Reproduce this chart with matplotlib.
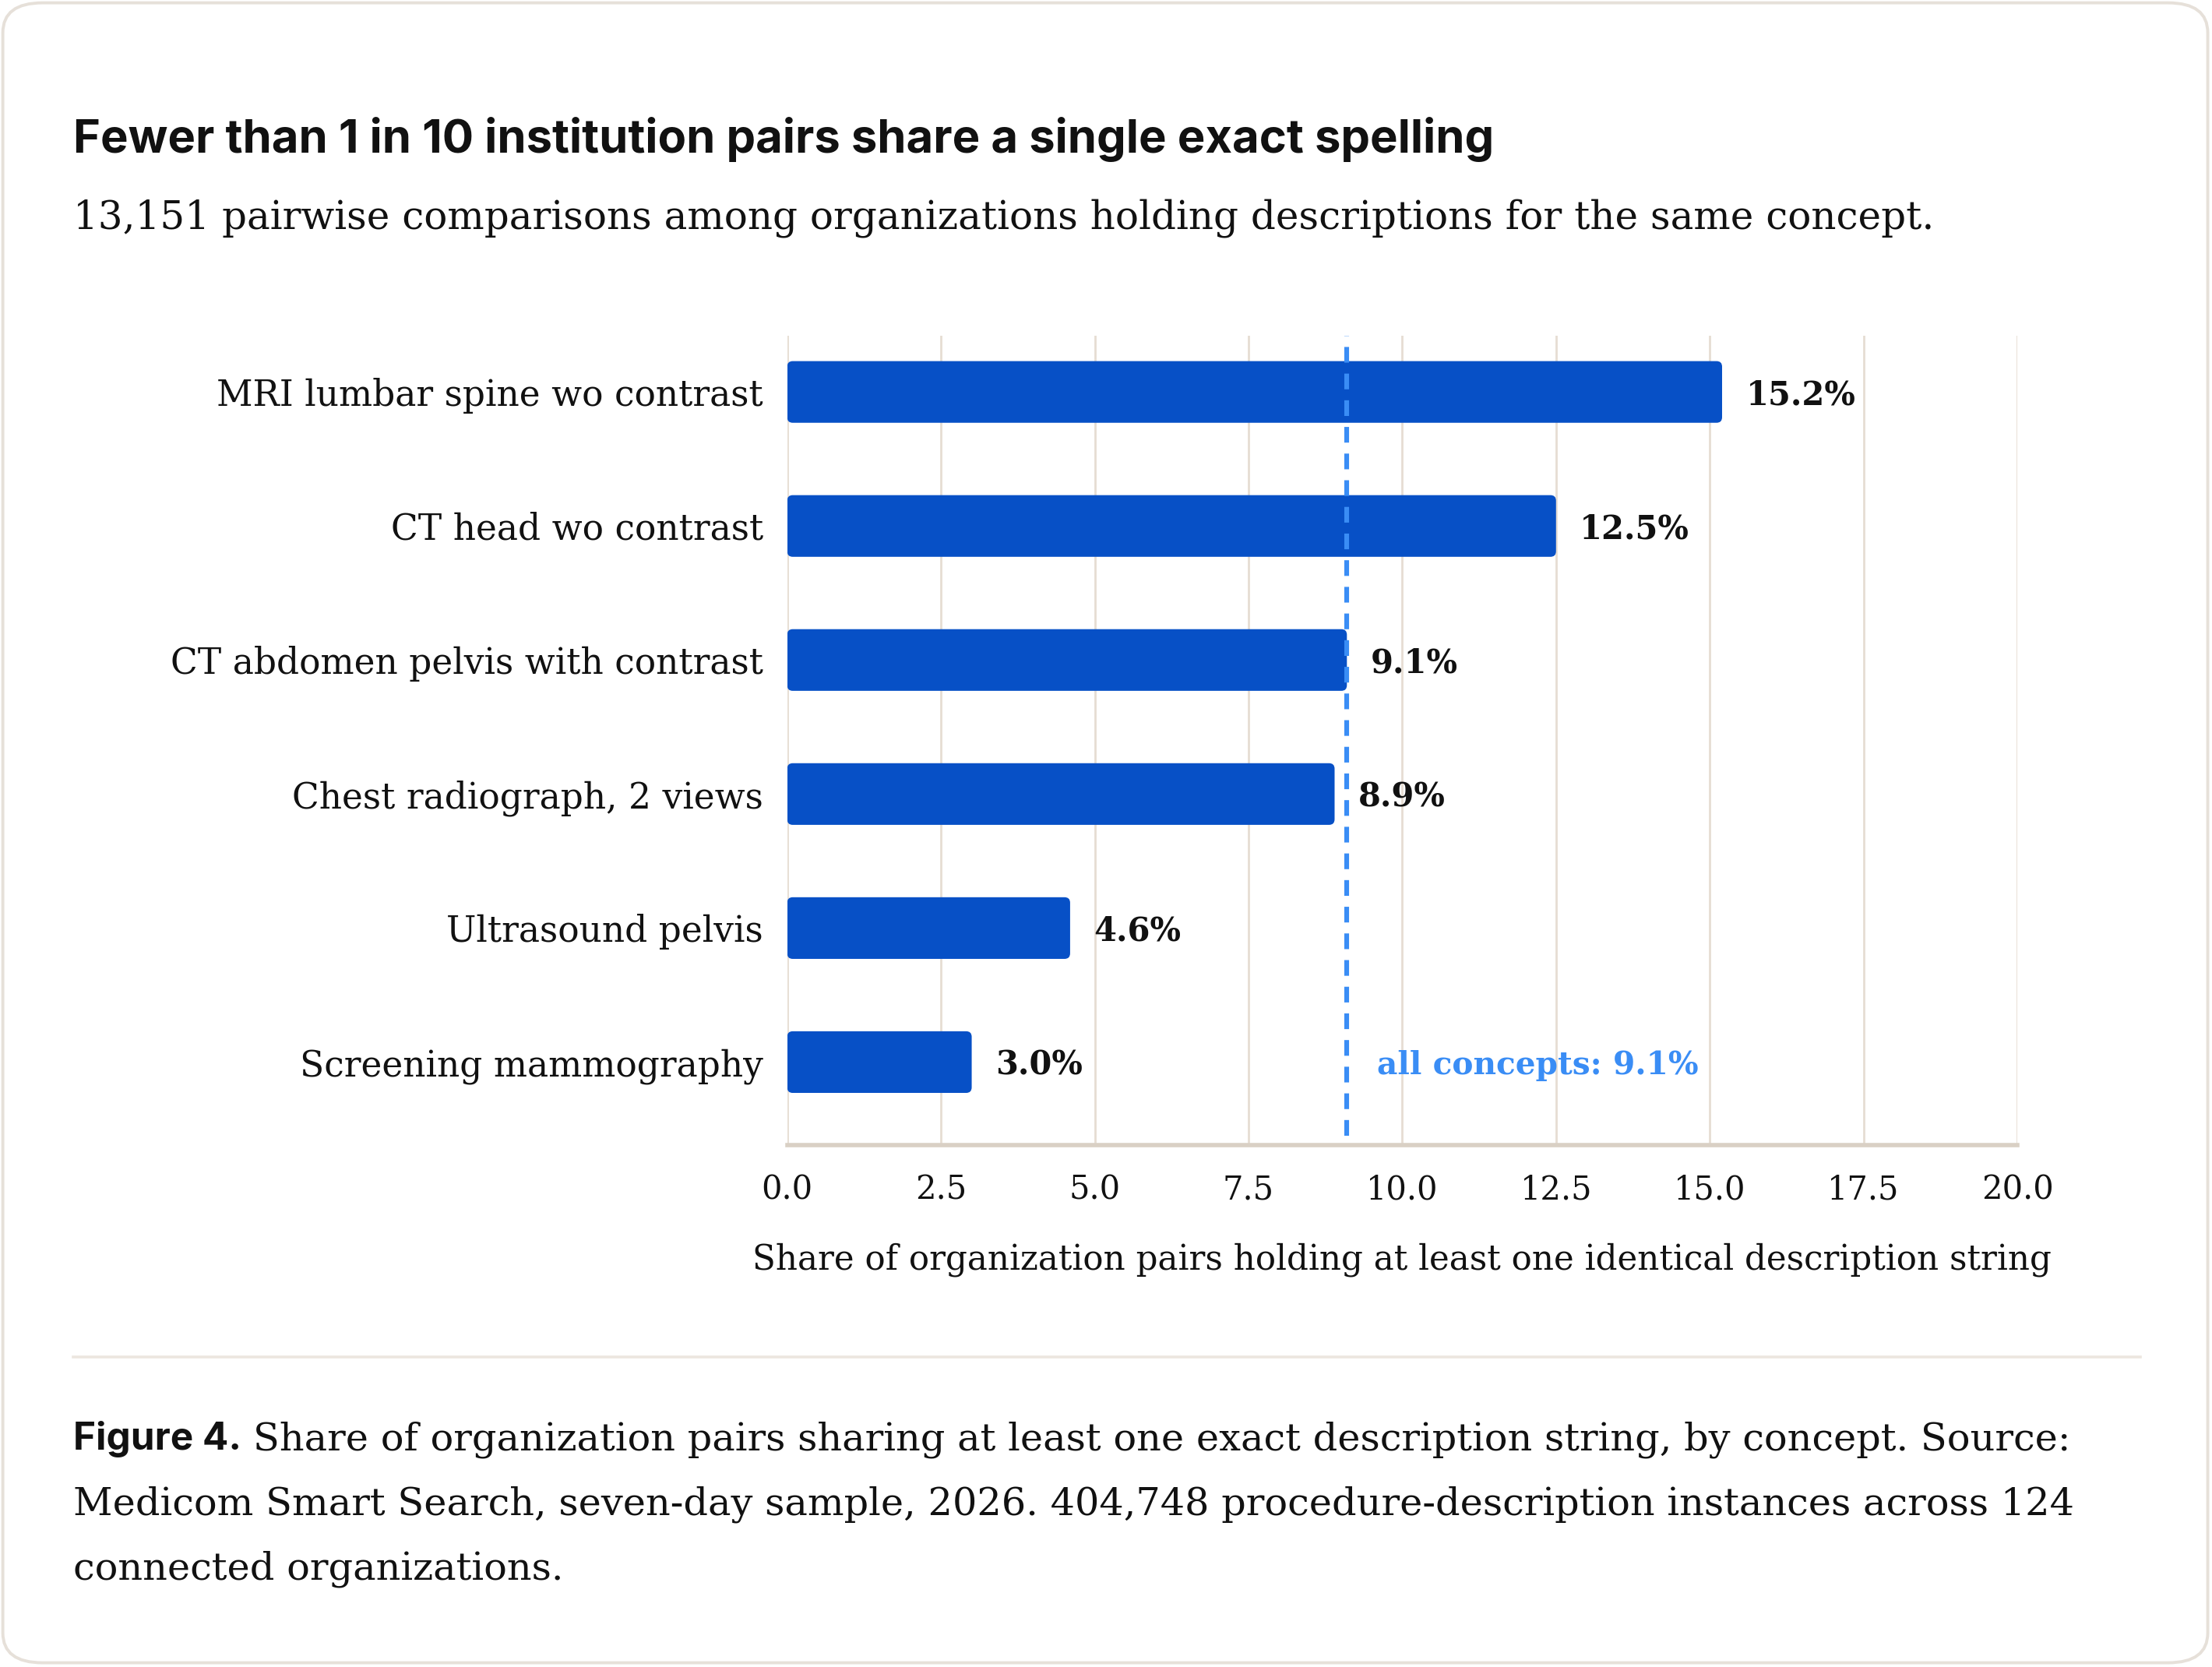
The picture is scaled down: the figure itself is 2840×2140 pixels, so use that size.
"""
Figure 4 - exact-spelling overlap between organization pairs, by concept
"""
import matplotlib.pyplot as plt
from matplotlib.patches import FancyBboxPatch
from matplotlib.lines import Line2D

SERIF = ['DejaVu Serif']
SANS = ['Inter', 'DejaVu Sans']

plt.rcParams['font.family'] = SERIF

# ========== data ==========
concepts = [
    'MRI lumbar spine wo contrast',
    'CT head wo contrast',
    'CT abdomen pelvis with contrast',
    'Chest radiograph, 2 views',
    'Ultrasound pelvis',
    'Screening mammography',
]
share_pct = [15.2, 12.5, 9.1, 8.9, 4.6, 3.0]
overall_pct = 9.1
x_ticks = [0.0, 2.5, 5.0, 7.5, 10.0, 12.5, 15.0, 17.5, 20.0]

title = 'Fewer than 1 in 10 institution pairs share a single exact spelling'
subtitle = '13,151 pairwise comparisons among organizations holding descriptions for the same concept.'
x_label = 'Share of organization pairs holding at least one identical description string'
caption_lead = 'Figure 4.'
caption_lines = [
    'Share of organization pairs sharing at least one exact description string, by concept. Source:',
    'Medicom Smart Search, seven-day sample, 2026. 404,748 procedure-description instances across 124',
    'connected organizations.',
]

BAR = '#0750c6'
REF = '#3a8df5'
GRID = '#e6ddd3'
BORDER = '#e6e0d9'
INK = '#111111'

# reference layout was measured on a 1568 x 1182 view
W, H = 1568, 1182


def fx(px):
    return px / W


def fy(py):
    return 1 - py / H


fig = plt.figure(figsize=(14.2, 10.7), dpi=200, facecolor='white')

# card (behind everything)
card = FancyBboxPatch((fx(2), fy(1179)), fx(1563), 1177 / H,
                      boxstyle='round,pad=0,rounding_size=0.018',
                      transform=fig.transFigure, facecolor='white',
                      edgecolor=BORDER, linewidth=1.4, zorder=-5)
fig.patches.append(card)

fig.text(fx(52), fy(108), title, family=SANS, fontweight='bold',
         fontsize=21.5, color=INK, va='baseline', ha='left')
fig.text(fx(52), fy(162), subtitle, fontsize=18, color=INK,
         va='baseline', ha='left')

# ========== chart ==========
ax = fig.add_axes([fx(558), fy(812), fx(1430) - fx(558), (812 - 238) / H])
ax.patch.set_alpha(0)
ypos = list(range(len(concepts)))
bars = ax.barh(ypos, share_pct, height=0.46, color=BAR, zorder=2)

# swap the square bars for slightly rounded ones (same geometry)
for rect in bars.patches:
    rect.set_visible(False)
    ax.add_patch(FancyBboxPatch((rect.get_x(), rect.get_y()), rect.get_width(), rect.get_height(),
                                boxstyle='round,pad=0,rounding_size=0.09',
                                mutation_aspect=0.46, facecolor=BAR,
                                edgecolor='none', zorder=2))

for y, v in zip(ypos, share_pct):
    ax.annotate(f'{v:.1f}%', xy=(v, y), xytext=(11, -1.5), textcoords='offset points',
                va='center', ha='left', fontsize=15, fontweight='bold', color=INK)

ax.axvline(overall_pct, ymin=0.012, ymax=1.0, color=REF, linewidth=2.2,
           dashes=(3.3, 2.3), zorder=3)
ax.annotate(f'all concepts: {overall_pct:.1f}%', xy=(overall_pct, ypos[-1]),
            xytext=(14, -1.5), textcoords='offset points', va='center', ha='left',
            fontsize=14.7, fontweight='bold', color=REF)

ax.set_xlim(0, 20)
ax.set_ylim(len(concepts) - 0.38, -0.42)
ax.set_xticks(x_ticks)
ax.set_xticklabels([f'{t:.1f}' for t in x_ticks])
ax.set_yticks(ypos)
ax.set_yticklabels(concepts)
ax.tick_params(axis='y', length=0, pad=11, labelsize=16.4, labelcolor=INK)
ax.tick_params(axis='x', length=0, pad=13, labelsize=15, labelcolor=INK)
ax.set_xlabel(x_label, fontsize=15.7, color=INK, labelpad=17)

ax.grid(axis='x', color=GRID, linewidth=1.0, zorder=0)
ax.set_axisbelow(True)
for side in ['top', 'left', 'right']:
    ax.spines[side].set_visible(False)
ax.spines['bottom'].set_color('#d9d0c5')
ax.spines['bottom'].set_linewidth(2.0)

# ========== caption ==========
fig.add_artist(Line2D([fx(52), fx(1517)], [fy(962), fy(962)],
                      transform=fig.transFigure, color='#ece6df', linewidth=1.3))

lead = fig.text(fx(52), fy(1028), caption_lead, family=SANS, fontweight='bold',
                fontsize=17.8, color=INK, va='baseline', ha='left')
renderer = fig.canvas.get_renderer()
lead_box = lead.get_window_extent(renderer).transformed(fig.transFigure.inverted())
fig.text(lead_box.x1 + fx(8), fy(1028), caption_lines[0], fontsize=17.8, color=INK,
         va='baseline', ha='left')
for i, line in enumerate(caption_lines[1:], start=1):
    fig.text(fx(52), fy(1028 + 46 * i), line, fontsize=17.8, color=INK,
             va='baseline', ha='left')

fig.savefig('out.png', dpi=200, facecolor='white')
